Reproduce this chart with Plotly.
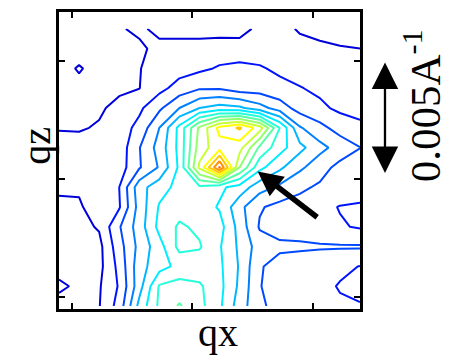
import plotly.graph_objects as go

# Grid of the reciprocal-space map (qx columns, qz rows)
qx_index = list(range(16))
qz_index = list(range(15))

# Scattered intensity, one row per qz step, listed from the top row downwards
intensity_rows = [
    [0.5, 0.5, 0.6, 0.9, 1.2, 0.7, 0.6, 0.6, 0.6, 0.7, 1.2, 1.3, 0.9, 0.7, 0.7, 0.8],
    [0.6, 0.5, 0.5, 0.7, 0.8, 1.3, 1.4, 1.4, 1.5, 1.35, 1.5, 1.5, 1.3, 1.2, 1.05, 1.0],
    [0.6, 1.1, 0.6, 0.7, 0.95, 1.5, 1.6, 1.8, 2.1, 2.3, 2.1, 1.8, 1.6, 1.4, 1.3, 1.2],
    [0.6, 0.7, 0.7, 0.8, 0.98, 1.7, 2.4, 2.9, 2.9, 2.5, 2.5, 2.3, 2.05, 1.8, 1.6, 1.5],
    [0.7, 0.6, 0.85, 1.3, 1.8, 2.8, 4.0, 5.0, 5.4, 5.2, 4.4, 3.5, 2.6, 2.2, 1.8, 1.7],
    [0.95, 0.9, 1.1, 1.5, 2.3, 4.0, 6.3, 9.2, 11.3, 12.15, 10.5, 7.0, 4.1, 3.3, 2.6, 2.2],
    [1.3, 1.4, 1.6, 1.4, 2.95, 4.4, 6.3, 9.5, 10.6, 10.4, 7.8, 6.4, 5.3, 4.3, 3.6, 3.02],
    [1.2, 1.3, 1.4, 1.5, 2.9, 4.1, 6.2, 10.2, 14.1, 9.0, 6.3, 5.2, 4.2, 3.4, 2.7, 2.4],
    [1.15, 1.1, 1.4, 2.0, 4.6, 5.6, 6.3, 6.8, 6.2, 5.6, 4.4, 3.8, 3.2, 2.85, 2.7, 2.7],
    [0.8, 0.9, 1.4, 1.9, 4.4, 6.1, 6.6, 6.5, 5.9, 4.3, 3.1, 2.7, 2.6, 2.3, 1.95, 1.8],
    [0.6, 0.7, 1.1, 2.9, 4.5, 6.3, 7.15, 6.8, 6.4, 4.6, 2.9, 2.6, 2.6, 2.4, 2.1, 1.9],
    [0.6, 0.7, 0.7, 2.6, 4.3, 5.6, 7.3, 7.1, 6.1, 4.8, 3.5, 3.2, 3.15, 3.1, 3.1, 3.1],
    [0.8, 0.85, 0.7, 2.3, 4.6, 5.6, 6.3, 6.4, 6.2, 4.9, 3.1, 2.6, 2.5, 2.4, 2.15, 1.98],
    [1.1, 0.9, 0.9, 2.1, 4.6, 7.1, 7.4, 7.15, 6.3, 4.8, 3.05, 2.5, 2.3, 2.2, 1.95, 1.8],
    [0.8, 0.7, 0.95, 2.4, 5.3, 7.2, 8.1, 7.3, 6.2, 4.5, 3.2, 2.6, 2.3, 2.2, 2.1, 2.05],
]

contour_levels = list(range(1, 15))

x_tick_positions = [0.65, 6.65, 12.65]
y_tick_positions = [0.45, 6.4, 12.4]

z = intensity_rows[::-1]


def jet(f):
    """MATLAB-style jet colour at fraction f in [0, 1]."""
    stops = [(0.0, (0, 0, 128)), (0.125, (0, 0, 255)), (0.375, (0, 255, 255)),
             (0.625, (255, 255, 0)), (0.875, (255, 0, 0)), (1.0, (128, 0, 0))]
    f = min(max(f, 0.0), 1.0)
    for (f0, c0), (f1, c1) in zip(stops[:-1], stops[1:]):
        if f <= f1:
            t = (f - f0) / (f1 - f0)
            r, g, b = (round(a + (b_ - a) * t) for a, b_ in zip(c0, c1))
            return f"rgb({r},{g},{b})"
    return "rgb(128,0,0)"


fig = go.Figure()
for level in contour_levels:
    colour = jet(0.09 + (level - 1) * 0.0535)
    fig.add_trace(go.Contour(
        x=qx_index, y=qz_index, z=z,
        contours=dict(coloring="lines", start=level, end=level, size=1,
                      showlabels=False),
        line=dict(width=2, smoothing=0),
        colorscale=[[0, colour], [1, colour]],
        showscale=False, hoverinfo="skip",
    ))

axis_style = dict(
    showgrid=False, zeroline=False, showticklabels=False,
    showline=True, linecolor="black", linewidth=2.6, mirror="allticks",
    ticks="inside", ticklen=6, tickwidth=2, tickcolor="black",
)

fig.update_xaxes(range=[0, 15], tickvals=x_tick_positions, **axis_style)
fig.update_yaxes(range=[-0.15, 14.85], tickvals=y_tick_positions, **axis_style)

serif = dict(family="Liberation Serif", size=40, color="black")
serif_scale = dict(family="Liberation Serif", size=43, color="black")

fig.update_layout(
    width=449, height=356,
    margin=dict(l=59, r=89, t=9, b=47),
    paper_bgcolor="white", plot_bgcolor="white",
    showlegend=False,
    annotations=[
        # axis names
        dict(text="qx", xref="paper", yref="paper", x=0.528, y=-0.08,
             xanchor="center", yanchor="middle", showarrow=False, font=serif),
        dict(text="qz", xref="paper", yref="paper", x=-0.073, y=0.55,
             xanchor="center", yanchor="middle", showarrow=False, font=serif,
             textangle=-90),
        # scale bar
        dict(text="", xref="paper", yref="paper", x=1.083, y=0.83,
             ax=0, ay=112, showarrow=True, arrowside="end+start",
             arrowhead=2, arrowsize=2.3, arrowwidth=2.3, arrowcolor="black"),
        dict(text="0.005A<sup>-1</sup>", xref="paper", yref="paper",
             x=1.205, y=0.685, xanchor="center", yanchor="middle",
             showarrow=False, font=serif_scale, textangle=-90),
        # arrow marking the peak
        dict(text="", x=9.9, y=6.8, xref="x", yref="y", ax=61, ay=47,
             showarrow=True, arrowhead=2, arrowsize=0.9, arrowwidth=5.5,
             arrowcolor="black"),
    ],
)

fig.write_html("out.html")
